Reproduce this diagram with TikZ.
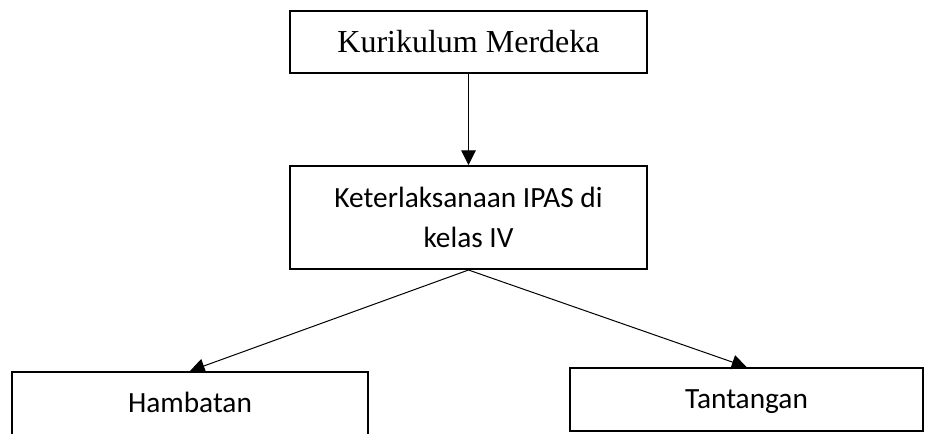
\documentclass[tikz,border=0pt]{standalone}
\usepackage{fontspec}
\setmainfont{Liberation Serif}
\newfontfamily\calib{Carlito}
\usetikzlibrary{arrows.meta}
\begin{document}
\begin{tikzpicture}[x=0.75pt,y=-0.75pt,
  plainbox/.style={draw=black,line width=1.5pt,rectangle,inner sep=0pt},
  boxnode/.style={plainbox,align=center},
  serifbox/.style={boxnode,font=\fontsize{24}{28}\selectfont},
  sansbox/.style={boxnode,font=\calib\fontsize{22}{30}\selectfont},
  sansone/.style={plainbox,text depth=0pt,font=\calib\fontsize{22}{30}\selectfont},
  sanslabel/.style={inner sep=0pt,text depth=0pt,font=\calib\fontsize{22}{30}\selectfont},
  conn/.style={line width=0.75pt,-{Triangle[length=11pt,width=11pt]}}]
\useasboundingbox (0,0) rectangle (925,433);
\clip (0,0) rectangle (925,433);
\fill[white] (0,0) rectangle (925,433);
\node[serifbox,minimum width=267.75pt,minimum height=46.5pt] (km) at (468.5,42) {Kurikulum Merdeka};
\node[sansbox,minimum width=267.75pt,minimum height=77.25pt] (ipas) at (468.5,217.5) {Keterlaksanaan IPAS di\\kelas IV};
\node[plainbox,minimum width=267pt,minimum height=58.5pt] (hamb) at (190,411) {};
\node[sanslabel] (hambt) at (190,402) {Hambatan};
\node[sansone,minimum width=264.75pt,minimum height=47.25pt] (tant) at (746.5,399.5) {Tantangan};
\draw[conn] (km.south) -- (ipas.north);
\draw[conn] (ipas.south) -- (hamb.north);
\draw[conn] (ipas.south) -- (tant.north);
\end{tikzpicture}
\end{document}
